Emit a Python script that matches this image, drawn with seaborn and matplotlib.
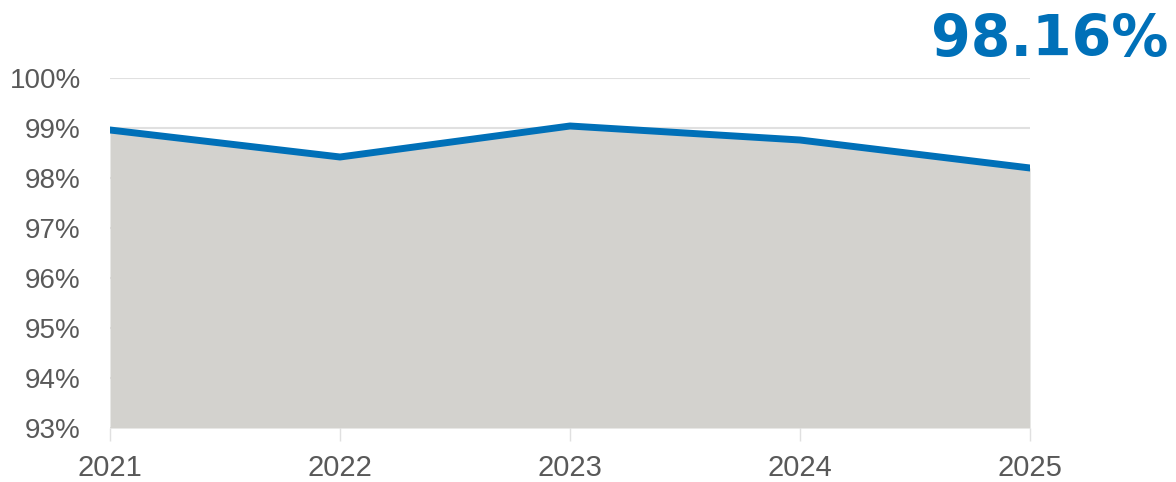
import pandas as pd
import seaborn as sns
from matplotlib import pyplot as plt
from matplotlib.ticker import FuncFormatter

# values
years = [2021, 2022, 2023, 2024, 2025]
rates = [98.96, 98.42, 99.04, 98.76, 98.2]
headline = "98.16%"

LINE_BLUE = "#0070B8"
FILL_GREY = "#D3D2CE"
TEXT_GREY = "#595959"

sns.set_theme(style="white")
plt.rcParams['font.family'] = ['Liberation Sans', 'DejaVu Sans']

df = pd.DataFrame({'year': years, 'rate': rates})

fig = plt.figure(figsize=(11.76, 4.82), dpi=100)
ax = fig.add_axes([110 / 1176, 1 - 428 / 482, 920 / 1176, 350 / 482])

#area under the line down to the axis floor
ax.fill_between(df['year'], df['rate'], 93, color=FILL_GREY, linewidth=0, zorder=1)
sns.lineplot(data=df, x='year', y='rate', ax=ax, color=LINE_BLUE, linewidth=5,
             solid_capstyle='round', zorder=3)

ax.set_xlim(years[0], years[-1])
ax.set_ylim(93, 100)
ax.set_yticks(range(93, 101))
ax.yaxis.set_major_formatter(FuncFormatter(lambda v, p: f"{int(v)}%"))
ax.set_xticks(years)
ax.set_xticklabels([str(y) for y in years])
ax.grid(axis='y', color='#E0E0E0', linewidth=1.5, zorder=0)
ax.set_axisbelow(True)
for side in ['top', 'right', 'left', 'bottom']:
    ax.spines[side].set_visible(False)
ax.tick_params(axis='y', length=0, pad=21, labelsize=20, labelcolor=TEXT_GREY)
ax.tick_params(axis='x', length=9, width=1, color='#E0E0E0', pad=10,
               labelsize=21, labelcolor=TEXT_GREY, direction='out', bottom=True)
ax.set_xlabel('')
ax.set_ylabel('')

fig.text(1168 / 1176, 1 - 13 / 482, headline, ha='right', va='top',
         fontsize=41, fontweight='heavy', color=LINE_BLUE,
         family=['DejaVu Sans'])

plt.savefig('out.png', dpi=100)
